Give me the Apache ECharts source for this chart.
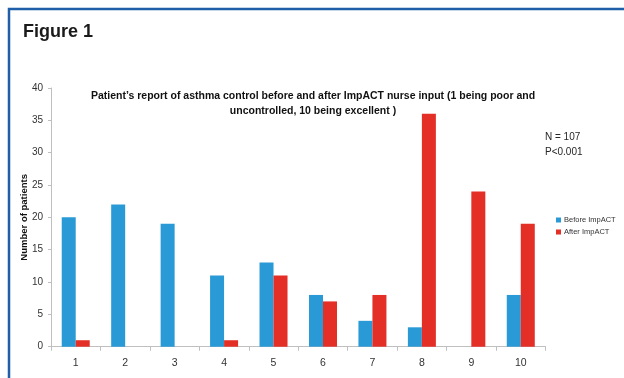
<!DOCTYPE html>
<html>
<head>
<meta charset="utf-8">
<script src="https://cdn.jsdelivr.net/npm/echarts@6/dist/echarts.min.js"></script>
<style>
  html, body { margin: 0; padding: 0; background: #fff; }
  #chart { width: 624px; height: 378px; }
</style>
</head>
<body>
<div id="chart"></div>
<script>
// Asthma control scores (1 = poor and uncontrolled, 10 = excellent)
const categories = ['1', '2', '3', '4', '5', '6', '7', '8', '9', '10'];
const beforeImpact = [20, 22, 19, 11, 13, 8, 4, 3, 0, 8];
const afterImpact = [1, 0, 0, 1, 11, 7, 8, 36, 24, 19];
const seriesNames = ['Before ImpACT', 'After ImpACT'];
const yTicks = { min: 0, max: 40, step: 5 };

const FONT = "'Liberation Sans', Arial, sans-serif";

const chart = echarts.init(document.getElementById('chart'), null, { renderer: 'canvas' });

chart.setOption({
  animation: false,
  backgroundColor: '#ffffff',
  textStyle: { fontFamily: FONT },
  graphic: [
    {
      type: 'polyline',
      shape: { points: [[9, 378], [9, 9], [624, 9]] },
      style: { stroke: '#1f5ea8', lineWidth: 2.5, fill: null }
    },
    {
      type: 'text',
      left: 23, top: 23,
      style: {
        text: 'Figure 1',
        font: "bold 18px 'Liberation Sans', Arial, sans-serif",
        fill: '#1a1a1a'
      }
    },
    {
      type: 'text',
      left: 545, top: 130,
      style: {
        text: 'N = 107\nP<0.001',
        font: '10px ' + FONT,
        lineHeight: 15,
        fill: '#262626'
      }
    }
  ],
  title: {
    text: 'Patient’s report of asthma control before and after ImpACT nurse input (1 being poor and\nuncontrolled, 10 being excellent )',
    left: 308,
    top: 84,
    textAlign: 'center',
    textStyle: {
      fontFamily: FONT,
      fontWeight: 'bold',
      fontSize: 10.5,
      lineHeight: 15,
      color: '#111'
    }
  },
  legend: {
    orient: 'vertical',
    left: 551,
    top: 211,
    itemWidth: 5,
    itemHeight: 5,
    itemGap: 4,
    icon: 'rect',
    data: seriesNames,
    textStyle: { fontFamily: FONT, fontSize: 7.5, color: '#333', padding: [0, 0, 0, -2] }
  },
  grid: {
    left: 51,
    right: 78.5,
    top: 88,
    bottom: 31.3,
    containLabel: false
  },
  xAxis: {
    type: 'category',
    data: categories,
    axisLine: { show: true, lineStyle: { color: '#bfbfbf', width: 1 } },
    axisTick: { show: true, length: 4, lineStyle: { color: '#bfbfbf' } },
    axisLabel: { fontFamily: FONT, fontSize: 10.5, color: '#333', margin: 11 }
  },
  yAxis: {
    type: 'value',
    min: yTicks.min,
    max: yTicks.max,
    interval: yTicks.step,
    name: 'Number of patients',
    nameLocation: 'middle',
    nameGap: 22,
    nameMoveOverlap: false,
    nameTextStyle: { fontFamily: FONT, fontWeight: 'bold', fontSize: 9.5, color: '#111' },
    axisLine: { show: true, lineStyle: { color: '#bfbfbf', width: 1 } },
    axisTick: { show: true, length: 3, lineStyle: { color: '#bfbfbf' } },
    splitLine: { show: false },
    axisLabel: { fontFamily: FONT, fontSize: 10, color: '#333', margin: 8 }
  },
  series: [
    {
      name: seriesNames[0],
      type: 'bar',
      data: beforeImpact,
      barWidth: 14,
      barGap: '0%',
      itemStyle: { color: '#2a9ad6' }
    },
    {
      name: seriesNames[1],
      type: 'bar',
      data: afterImpact,
      barWidth: 14,
      barGap: '0%',
      itemStyle: { color: '#e32f26' }
    }
  ]
});
</script>
</body>
</html>
